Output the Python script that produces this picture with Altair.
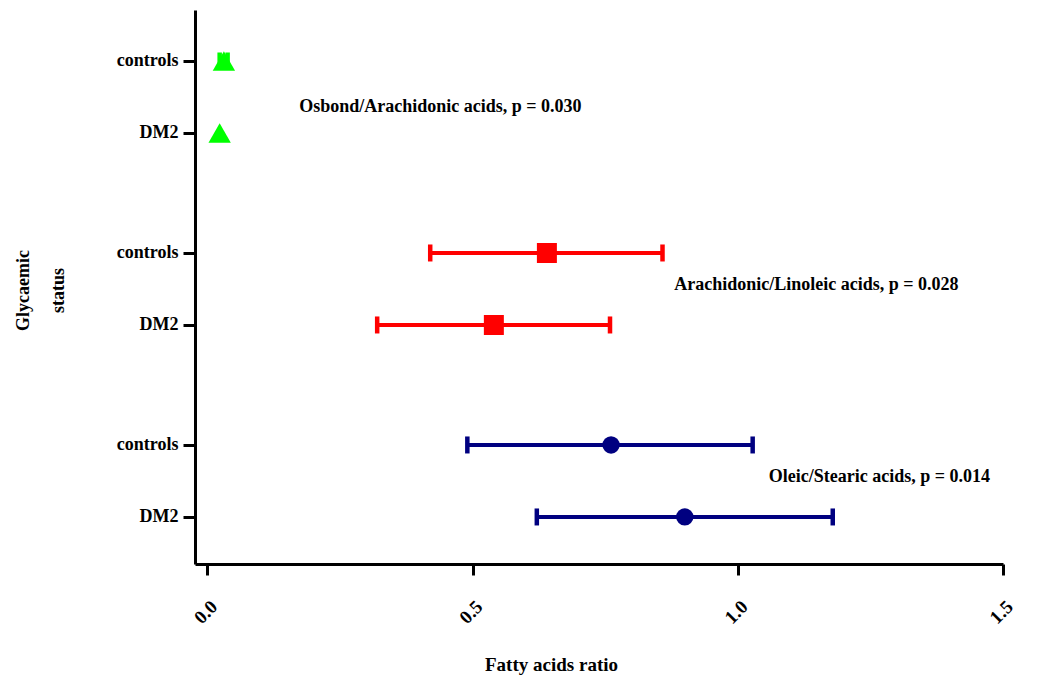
import altair as alt
import pandas as pd

# ---- data ----
ratios = ["Osbond/Arachidonic acids", "Arachidonic/Linoleic acids", "Oleic/Stearic acids"]
statuses = ["controls", "DM2"]
p_values = ["0.030", "0.028", "0.014"]

mean_controls = [0.031, 0.640, 0.761]
low_controls = [0.023, 0.420, 0.490]
high_controls = [0.038, 0.858, 1.028]

mean_dm2 = [0.023, 0.540, 0.900]
low_dm2 = [0.023, 0.320, 0.621]
high_dm2 = [0.023, 0.759, 1.179]

colors = ["#00FF00", "#FF0000", "#000080"]
shapes = ["triangle-up", "square", "circle"]
marker_sizes = [500, 300, 320]

# row index: group * 8 + status * 3 (gap between groups larger than inside a group)
rows = []
for g, r in enumerate(ratios):
    for s, st in enumerate(statuses):
        m = [mean_controls, mean_dm2][s][g]
        lo = [low_controls, low_dm2][s][g]
        hi = [high_controls, high_dm2][s][g]
        rows.append({"ratio": r, "status": st, "row": g * 8 + s * 3,
                     "mean": m, "low": lo, "high": hi})
df = pd.DataFrame(rows)

ann_x = [0.439, 1.148, 1.267]
ann_y = [1.92, 9.33, 17.33]
ann = pd.DataFrame({
    "ratio": ratios,
    "label": [f"{r}, p = {p}" for r, p in zip(ratios, p_values)],
    "ax": ann_x,
    "ay": ann_y,
})

FONT = "Liberation Serif"

xscale = alt.Scale(domain=[-0.0235, 1.5], nice=False, zero=False)
yscale = alt.Scale(domain=[-2.125, 20.96], nice=False, zero=False, reverse=True)
cscale = alt.Scale(domain=ratios, range=colors)
sscale = alt.Scale(domain=ratios, range=shapes)
zscale = alt.Scale(domain=ratios, range=marker_sizes)

xaxis = alt.Axis(
    values=[0, 0.5, 1.0, 1.5], format=".1f", labelAngle=-45,
    labelFont=FONT, labelFontSize=19, labelFontWeight="bold", labelColor="black",
    labelPadding=22,
    domainColor="black", domainWidth=3, tickColor="black", tickWidth=3, tickSize=11,
    grid=False, title="Fatty acids ratio", titleFont=FONT, titleFontSize=19,
    titleFontWeight="bold", titleColor="black", titleX=356, titleY=106,
    titleAlign="center", titleBaseline="alphabetic",
)
yaxis = alt.Axis(
    values=[0, 3, 8, 11, 16, 19],
    labelExpr=f"(datum.value % 8) == 0 ? '{statuses[0]}' : '{statuses[1]}'",
    labelFont=FONT, labelFontSize=18, labelFontWeight="bold", labelColor="black",
    labelPadding=5, labelBaseline="middle",
    domainColor="black", domainWidth=3, tickColor="black", tickWidth=3, tickSize=12,
    grid=False, title=["Glycaemic", "status"], titleFont=FONT, titleFontSize=18,
    titleFontWeight="bold", titleColor="black", titleAngle=-90,
    titleX=-167, titleY=280, titleAlign="center", titleBaseline="alphabetic",
    titleLineHeight=35,
)

base = alt.Chart(df)

bars = base.mark_rule(strokeWidth=4).encode(
    x=alt.X("low:Q", scale=xscale, axis=xaxis),
    x2="high:Q",
    y=alt.Y("row:Q", scale=yscale, axis=yaxis),
    color=alt.Color("ratio:N", scale=cscale, legend=None),
)

caps = base.transform_filter("datum.high > datum.low").transform_fold(
    ["low", "high"], as_=["end", "xv"]
).mark_point(
    shape="M0,-1L0,1", size=289, strokeWidth=4.5, filled=False, opacity=1
).encode(
    x=alt.X("xv:Q", scale=xscale),
    y=alt.Y("row:Q", scale=yscale),
    color=alt.Color("ratio:N", scale=cscale, legend=None),
)

pts = base.mark_point(filled=True, opacity=1).encode(
    x=alt.X("mean:Q", scale=xscale),
    y=alt.Y("row:Q", scale=yscale),
    color=alt.Color("ratio:N", scale=cscale, legend=None),
    shape=alt.Shape("ratio:N", scale=sscale, legend=None),
    size=alt.Size("ratio:N", scale=zscale, legend=None),
)

labels = alt.Chart(ann).mark_text(
    font=FONT, fontSize=18, fontWeight="bold", color="black",
    align="center", baseline="middle"
).encode(
    x=alt.X("ax:Q", scale=xscale),
    y=alt.Y("ay:Q", scale=yscale),
    text="label:N",
)

chart = alt.layer(bars, caps, pts, labels).properties(
    width=808, height=554,
    background="white",
    autosize=alt.AutoSizeParams(type="none"),
    padding={"left": 187, "top": 2, "right": 35, "bottom": 111},
).configure_view(stroke="transparent", strokeWidth=0)

chart.save("out.html", embed_options={"renderer": "svg", "actions": False})
